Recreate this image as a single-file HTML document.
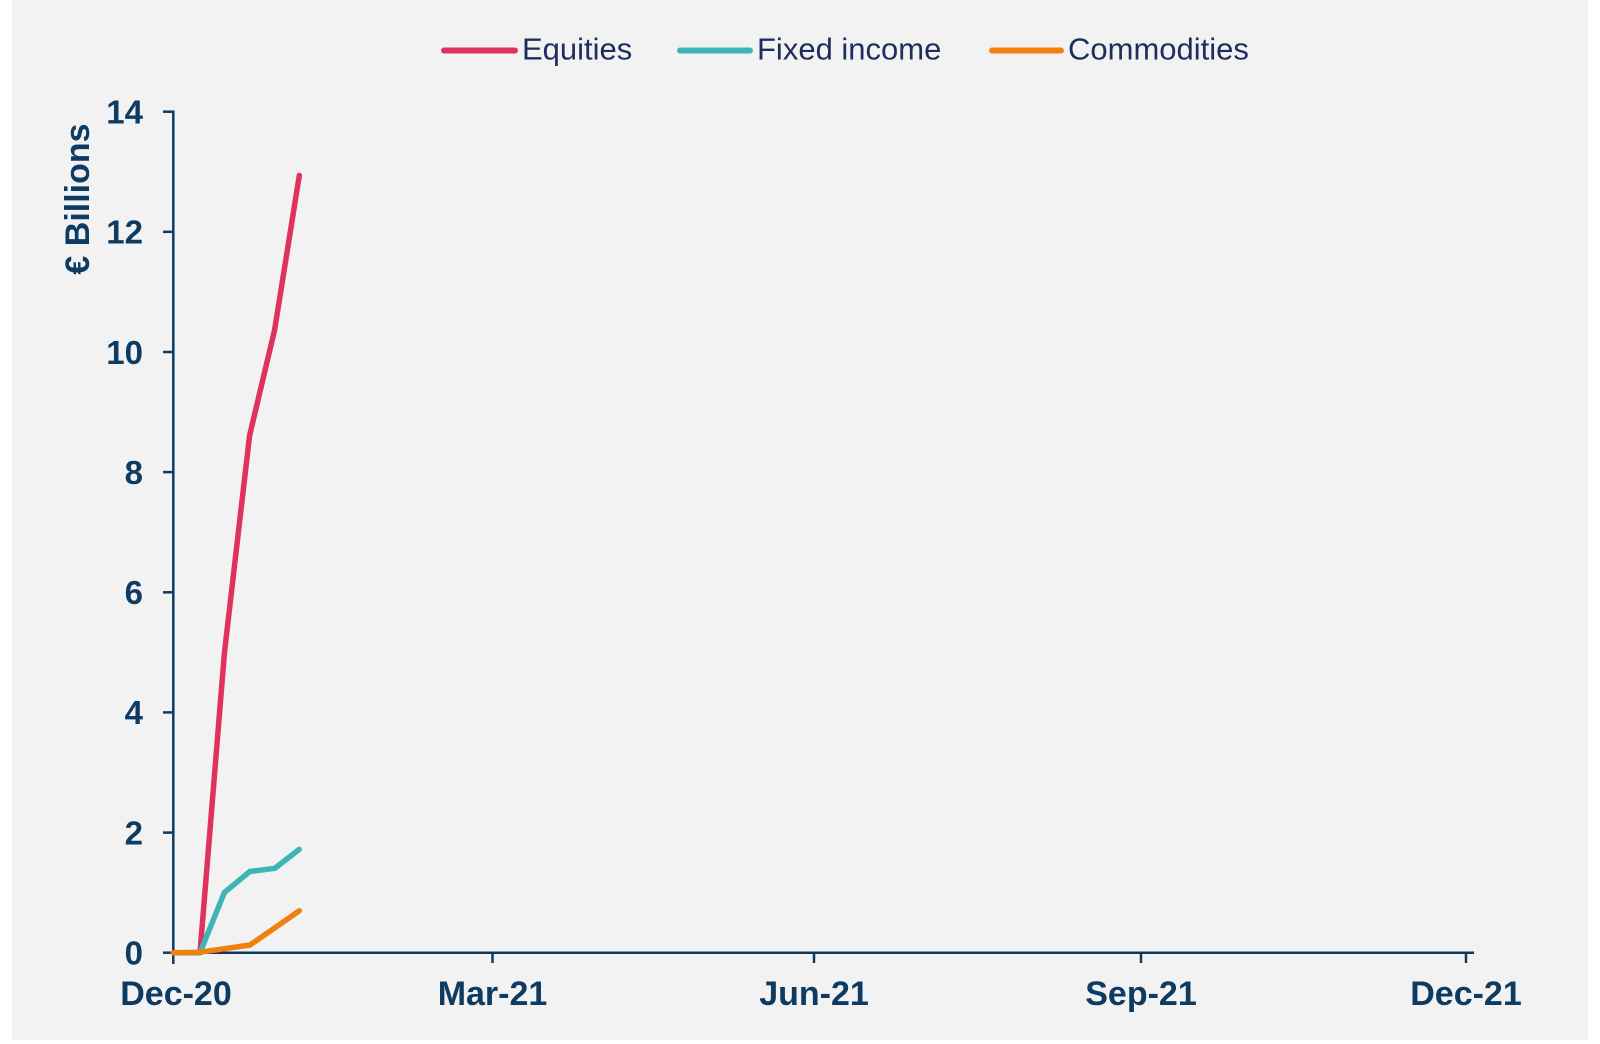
<!DOCTYPE html>
<html>
<head>
<meta charset="utf-8">
<style>
  html, body { margin: 0; padding: 0; background: #ffffff; }
  body { width: 1600px; height: 1044px; overflow: hidden; }
  svg { display: block; }
  .tick { font-family: "Liberation Sans", Arial, sans-serif; font-weight: bold; font-size: 33px; fill: #0d3b61; }
  .leg { font-family: "Liberation Sans", Arial, sans-serif; font-size: 31px; fill: #1f2d5e; }
</style>
</head>
<body>
<svg width="1600" height="1044" viewBox="0 0 1600 1044" xmlns="http://www.w3.org/2000/svg">
  <rect x="0" y="0" width="1600" height="1044" fill="#ffffff"/>
  <rect x="12" y="0" width="1576" height="1040" fill="#f2f2f2"/>

  <!-- Legend -->
  <line x1="444" y1="50.5" x2="515" y2="50.5" stroke="#e0325f" stroke-width="6" stroke-linecap="round"/>
  <text class="leg" x="522" y="59.5">Equities</text>
  <line x1="680" y1="50.5" x2="750" y2="50.5" stroke="#3db5b5" stroke-width="6" stroke-linecap="round"/>
  <text class="leg" x="757" y="59.5">Fixed income</text>
  <line x1="992" y1="50.5" x2="1061" y2="50.5" stroke="#f0800f" stroke-width="6" stroke-linecap="round"/>
  <text class="leg" x="1068" y="59.5">Commodities</text>

  <!-- Y axis title -->
  <text class="tick" transform="translate(89,199) rotate(-90)" text-anchor="middle" style="font-size:34px">€ Billions</text>

  <!-- Axes -->
  <g stroke="#0d3b61" stroke-width="2.5" fill="none">
    <line x1="173.3" y1="110.5" x2="173.3" y2="964"/>
    <line x1="172" y1="952.7" x2="1474" y2="952.7"/>
    <!-- y ticks -->
    <line x1="163" y1="111.7" x2="173.3" y2="111.7"/>
    <line x1="163" y1="231.8" x2="173.3" y2="231.8"/>
    <line x1="163" y1="352" x2="173.3" y2="352"/>
    <line x1="163" y1="472.1" x2="173.3" y2="472.1"/>
    <line x1="163" y1="592.3" x2="173.3" y2="592.3"/>
    <line x1="163" y1="712.4" x2="173.3" y2="712.4"/>
    <line x1="163" y1="832.6" x2="173.3" y2="832.6"/>
    <line x1="163" y1="952.7" x2="173.3" y2="952.7"/>
    <!-- x ticks -->
    <line x1="492.5" y1="952.7" x2="492.5" y2="963"/>
    <line x1="814" y1="952.7" x2="814" y2="963"/>
    <line x1="1141" y1="952.7" x2="1141" y2="963"/>
    <line x1="1466" y1="952.7" x2="1466" y2="963"/>
  </g>

  <!-- Y tick labels -->
  <g class="tick" text-anchor="end">
    <text x="143" y="123.5">14</text>
    <text x="143" y="243.6">12</text>
    <text x="143" y="363.8">10</text>
    <text x="143" y="483.9">8</text>
    <text x="143" y="604.1">6</text>
    <text x="143" y="724.2">4</text>
    <text x="143" y="844.4">2</text>
    <text x="143" y="964.5">0</text>
  </g>

  <!-- X tick labels -->
  <g class="tick" text-anchor="middle" style="font-size:34px">
    <text x="176" y="1005">Dec-20</text>
    <text x="492.5" y="1005">Mar-21</text>
    <text x="814" y="1005">Jun-21</text>
    <text x="1141" y="1005">Sep-21</text>
    <text x="1466" y="1005">Dec-21</text>
  </g>

  <!-- Series -->
  <g fill="none" stroke-width="5.5" stroke-linecap="round" stroke-linejoin="round">
    <polyline stroke="#e0325f" points="173.3,952.7 200,952.7 224.5,652 249.6,435.5 274.6,330 299.3,175.5"/>
    <polyline stroke="#3db5b5" points="173.3,952.7 200,952.7 224.4,892.5 249.8,871.5 274.8,868.3 299.3,849.3"/>
    <polyline stroke="#f0800f" points="173.3,952.7 200,952.2 224.6,948.7 250,945 274.6,928 299.3,910.7"/>
  </g>
</svg>
</body>
</html>
